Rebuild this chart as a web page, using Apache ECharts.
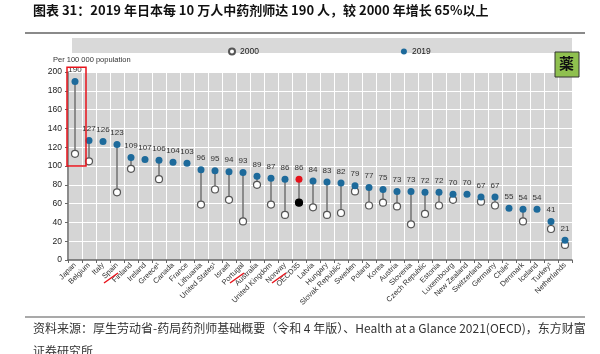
<!DOCTYPE html>
<html>
<head>
<meta charset="utf-8">
<script src="https://cdn.jsdelivr.net/npm/echarts@6/dist/echarts.min.js"></script>
<style>
  html, body { margin: 0; padding: 0; background: #fff; }
  #main { width: 600px; height: 354px; }
</style>
</head>
<body>
<div id="main"></div>
<script>
// 国家/地区
var countries = ['Japan', 'Belgium', 'Italy', 'Spain', 'Finland', 'Ireland', 'Greece¹', 'Canada', 'France',
	'Lithuania', 'United States¹', 'Israel', 'Portugal', 'Australia', 'United Kingdom', 'Norway', 'OECD35',
	'Latvia', 'Hungary', 'Slovak Republic¹', 'Sweden', 'Poland', 'Korea', 'Austria', 'Slovenia',
	'Czech Republic', 'Estonia', 'Luxembourg', 'New Zealand', 'Switzerland', 'Germany', 'Chile¹',
	'Denmark', 'Iceland', 'Turkey¹', 'Netherlands'];
// 2019 每10万人药剂师数
var v2019 = [190, 127, 126, 123, 109, 107, 106, 104, 103, 96, 95, 94, 93, 89, 87, 86, 86, 84, 83, 82,
	79, 77, 75, 73, 73, 72, 72, 70, 70, 67, 67, 55, 54, 54, 41, 21];
// 2000 (无数据为 null)
var v2000 = [113, 105, null, 72, 97, null, 86, null, null, 59, 75, 64, 41, 80, 59, 48, 61, 56, 48, 50,
	73, 58, 61, 57, 38, 49, 58, 64, null, 62, 58, null, 41, null, 33, 16];
var yTicks = { min: 0, max: 200, interval: 20 };
var oecdIdx = 16;
var marked = [3, 12, 15]; // 红线标注: Spain, Portugal, Norway

var blue = '#1d6a9b';

var linkData = [];
var dot2000 = [];
var dot2019 = [];
for (var i = 0; i < countries.length; i++) {
	if (v2000[i] != null) {
		linkData.push([i, v2000[i], v2019[i]]);
		if (i === oecdIdx) {
			dot2000.push({ value: [i, v2000[i]], itemStyle: { color: '#000', borderColor: '#000' } });
		} else {
			dot2000.push([i, v2000[i]]);
		}
	}
	if (i === oecdIdx) {
		dot2019.push({ value: [i, v2019[i]], itemStyle: { color: '#e5121b' } });
	} else {
		dot2019.push([i, v2019[i]]);
	}
}

var chart = echarts.init(document.getElementById('main'));
chart.setOption({
	animation: false,
	backgroundColor: '#fff',
	legend: {
		left: 223,
		top: 42,
		itemWidth: 6,
		itemHeight: 6,
		itemGap: 142,
		icon: 'circle',
		textStyle: { fontSize: 8.5, color: '#222', fontFamily: 'Liberation Sans' },
		data: ['2000', '2019']
	},
	grid: {
		left: 68,
		right: 28,
		top: 72,
		bottom: 94,
		show: true,
		backgroundColor: '#d5d5d5',
		borderWidth: 0
	},
	xAxis: {
		type: 'category',
		data: countries,
		boundaryGap: true,
		axisLine: { lineStyle: { color: '#666', width: 1.5 } },
		axisTick: { show: true, length: 3, lineStyle: { color: '#666' } },
		axisLabel: {
			interval: 0,
			rotate: 45,
			fontSize: 7.5,
			margin: 4,
			color: '#333',
			fontFamily: 'Liberation Sans'
		},
		splitLine: { show: true, lineStyle: { color: '#fff', width: 1 } }
	},
	yAxis: {
		type: 'value',
		min: yTicks.min,
		max: yTicks.max,
		interval: yTicks.interval,
		axisLine: { show: true, lineStyle: { color: '#666', width: 1.5 } },
		axisTick: { show: true, length: 3, lineStyle: { color: '#666' } },
		axisLabel: { fontSize: 8.5, color: '#222', margin: 6, fontFamily: 'Liberation Sans' },
		splitLine: { show: true, lineStyle: { color: '#fff', width: 1 } }
	},
	series: [
		{
			type: 'custom',
			name: 'link',
			encode: { x: 0, y: [1, 2] },
			data: linkData,
			z: 1,
			renderItem: function (params, api) {
				var p1 = api.coord([api.value(0), api.value(1)]);
				var p2 = api.coord([api.value(0), api.value(2)]);
				return {
					type: 'line',
					shape: { x1: p1[0], y1: p1[1], x2: p2[0], y2: p2[1] },
					style: { stroke: '#707070', lineWidth: 1.5 }
				};
			}
		},
		{
			type: 'scatter',
			name: '2000',
			symbol: 'circle',
			symbolSize: 7,
			z: 3,
			itemStyle: { color: '#fff', borderColor: '#555', borderWidth: 1.2, opacity: 1 },
			data: dot2000
		},
		{
			type: 'scatter',
			name: '2019',
			symbol: 'circle',
			symbolSize: 7,
			z: 4,
			itemStyle: { color: blue, opacity: 1 },
			label: {
				show: true,
				position: 'top',
				distance: 4,
				fontSize: 8,
				color: '#333',
				fontFamily: 'Liberation Sans',
				formatter: function (p) { return p.value[1]; }
			},
			data: dot2019
		}
	]
});

// 注释图形：标题、来源、红框、红线
var jp = chart.convertToPixel({ seriesIndex: 2 }, [0, 0]);
var jpTop = chart.convertToPixel({ yAxisIndex: 0 }, 205);
var jpBot = chart.convertToPixel({ yAxisIndex: 0 }, 100);
var axisY = chart.convertToPixel({ yAxisIndex: 0 }, 0);

var graphics = [
	{
		type: 'text', left: 33, top: 4,
		style: {
			text: '图表 31：2019 年日本每 10 万人中药剂师达 190 人，较 2000 年增长 65%以上',
			font: 'bold 13px "Noto Sans CJK SC"', fill: '#111'
		}
	},
	{ type: 'line', shape: { x1: 25, y1: 33, x2: 585, y2: 33 }, style: { stroke: '#8a8a8a', lineWidth: 2 } },
	{ type: 'rect', shape: { x: 72, y: 38, width: 500, height: 15 }, style: { fill: '#d9d9d9' }, z: -1 },
	{
		type: 'text', left: 53, top: 56,
		style: { text: 'Per 100 000 population', font: '7.5px "Liberation Sans"', fill: '#333' }
	},
	{
		type: 'rect', shape: { x: 555, y: 52, width: 24, height: 25 },
		style: { fill: '#8fc04f', stroke: '#333', lineWidth: 1 }, z: 10
	},
	{
		type: 'text', left: 559, top: 56,
		style: { text: '薬', font: 'bold 15px "Noto Sans CJK JP"', fill: '#111' }, z: 11
	},
	{
		type: 'rect',
		shape: { x: jp[0] - 8, y: jpTop, width: 19, height: jpBot - jpTop },
		style: { fill: 'none', stroke: '#e8131b', lineWidth: 1.5 }, z: 20
	},
	{ type: 'line', shape: { x1: 25, y1: 317, x2: 585, y2: 317 }, style: { stroke: '#555', lineWidth: 1.2 } },
	{
		type: 'text', left: 33, top: 322,
		style: {
			text: '资料来源：厚生劳动省-药局药剂师基础概要（令和 4 年版）、Health at a Glance 2021(OECD)，东方财富',
			font: '12px "Noto Sans CJK SC"', fill: '#333'
		}
	},
	{
		type: 'text', left: 33, top: 345,
		style: { text: '证券研究所', font: '12px "Noto Sans CJK SC"', fill: '#333' }
	}
];
for (var k = 0; k < marked.length; k++) {
	var px = chart.convertToPixel({ xAxisIndex: 0 }, marked[k]);
	graphics.push({
		type: 'line',
		shape: { x1: px + 1, y1: axisY + 13, x2: px - 13, y2: axisY + 23 },
		style: { stroke: '#e8131b', lineWidth: 1.5 }, z: 20
	});
}
chart.setOption({ graphic: graphics });
</script>
</body>
</html>
